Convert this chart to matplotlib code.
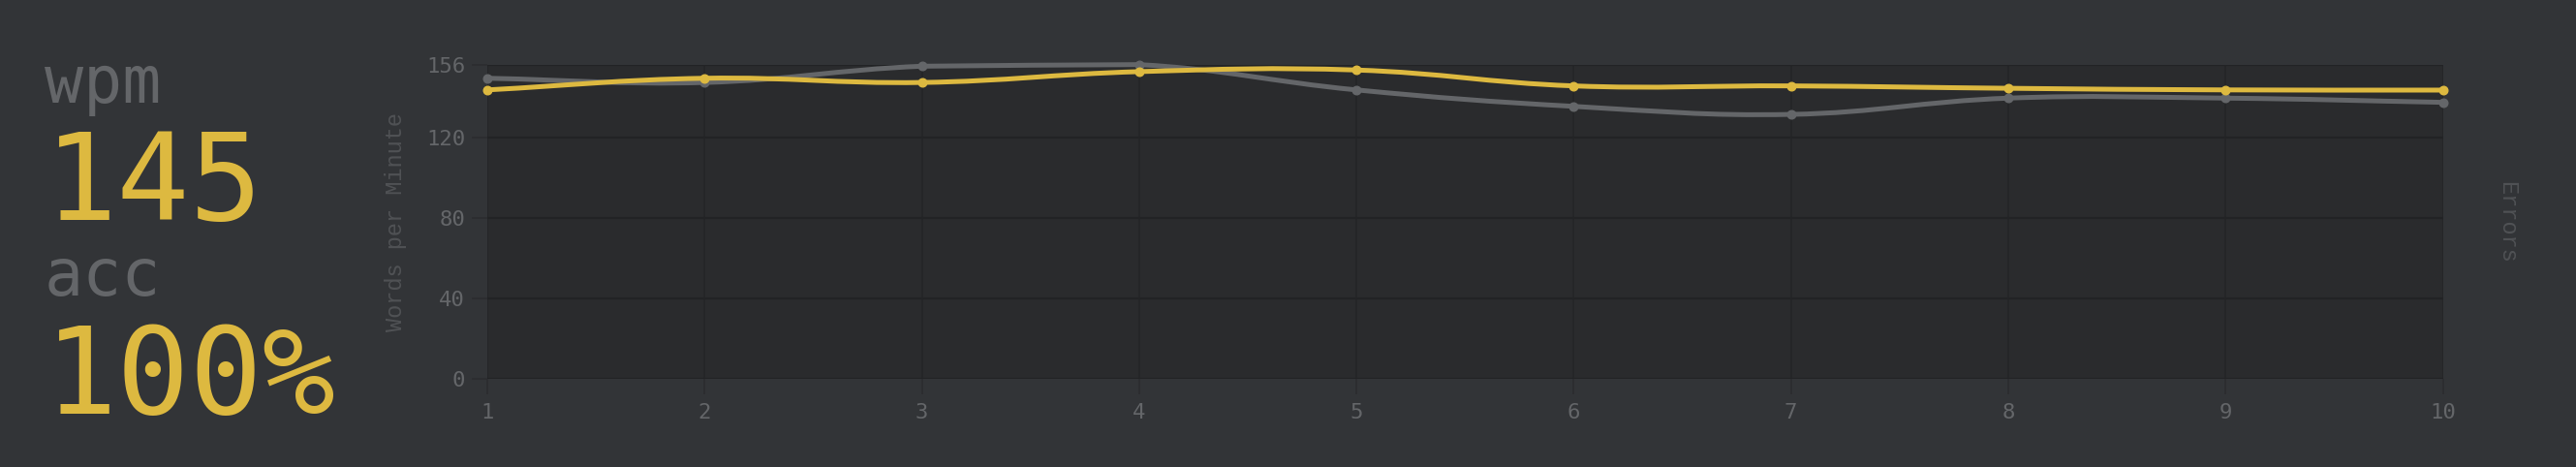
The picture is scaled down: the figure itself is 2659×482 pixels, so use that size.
import matplotlib
matplotlib.use("Agg")
import matplotlib.pyplot as plt
from matplotlib.path import Path
from matplotlib.patches import PathPatch
import numpy as np

# test result data
seconds = [1, 2, 3, 4, 5, 6, 7, 8, 9, 10]
wpm = [143.7, 149.5, 147.4, 152.8, 153.6, 145.7, 145.7, 144.5, 143.7, 143.6]
raw = [149.5, 147.4, 155.5, 156.3, 143.7, 135.5, 131.5, 139.6, 139.6, 137.5]
y_ticks = [0, 40, 80, 120, 156]
y_tick_labels = ["0", "40", "80", "120", "156"]
final_wpm = "145"
final_acc = "100%"

bg = "#323437"
plot_bg = "#2a2b2d"
grid_c = "#222325"
main_c = "#ddb940"
sub_c = "#646669"
label_c = "#505255"
mono = "DejaVu Sans Mono"
YMAX = 156


def smooth_path(xs, ys, sx, sy, tension=0.4):
    # chart.js style bezier control points, distances in pixel space,
    # control points kept inside the chart area
    px = np.array(xs, float) * sx
    py = np.array(ys, float) * sy
    n = len(px)
    top = YMAX * sy
    cps = []
    for i in range(n):
        p0 = (px[max(i - 1, 0)], py[max(i - 1, 0)])
        p1 = (px[i], py[i])
        p2 = (px[min(i + 1, n - 1)], py[min(i + 1, n - 1)])
        d01 = np.hypot(p1[0] - p0[0], p1[1] - p0[1])
        d12 = np.hypot(p2[0] - p1[0], p2[1] - p1[1])
        tot = d01 + d12 if d01 + d12 else 1
        fa = tension * d01 / tot
        fb = tension * d12 / tot
        prev = [p1[0] - fa * (p2[0] - p0[0]), p1[1] - fa * (p2[1] - p0[1])]
        nxt = [p1[0] + fb * (p2[0] - p0[0]), p1[1] + fb * (p2[1] - p0[1])]
        prev[1] = min(max(prev[1], 0), top)
        nxt[1] = min(max(nxt[1], 0), top)
        cps.append((prev, nxt))
    verts = [(px[0], py[0])]
    codes = [Path.MOVETO]
    for i in range(1, n):
        verts += [tuple(cps[i - 1][1]), tuple(cps[i][0]), (px[i], py[i])]
        codes += [Path.CURVE4] * 3
    verts = [(vx / sx, vy / sy) for vx, vy in verts]
    return Path(verts, codes)


fig = plt.figure(figsize=(26.59, 4.82), dpi=100, facecolor=bg)
ax = fig.add_axes([0.18917, 0.18983, 0.75912, 0.67054])
ax.set_facecolor(plot_bg)

ax.set_xlim(1, 10)
ax.set_ylim(0, YMAX)
ax.set_xticks(seconds)
ax.set_xticklabels([str(s) for s in seconds])
ax.set_yticks(y_ticks)
ax.set_yticklabels(y_tick_labels)
ax.grid(True, axis="y", color=grid_c, linewidth=1.6)
ax.grid(True, axis="x", color="#252628", linewidth=1.2)
ax.set_axisbelow(True)
for s in ax.spines.values():
    s.set_visible(False)
ax.tick_params(axis="both", length=11.5, width=1.1, color="#2b2c2f",
               labelcolor=sub_c, labelsize=16)
ax.tick_params(axis="y", pad=5)
ax.tick_params(axis="x", pad=7)
for lab in ax.get_xticklabels() + ax.get_yticklabels():
    lab.set_family(mono)

sx, sy = 224.2, 2.072
for ys, col, z in [(raw, sub_c, 2), (wpm, main_c, 3)]:
    patch = PathPatch(smooth_path(seconds, ys, sx, sy), fill=False, edgecolor=col,
                      linewidth=3.6, capstyle="round", joinstyle="round",
                      zorder=z, clip_on=False)
    ax.add_patch(patch)
    ax.plot(seconds, ys, "o", color=col, markersize=6.2, zorder=z, clip_on=False)

ax.text(-0.0466, 0.5, "Words per Minute", transform=ax.transAxes, rotation=90,
        ha="center", va="center", color=label_c, fontsize=17,
        family="Liberation Mono")
ax.text(1.0329, 0.5, "Errors", transform=ax.transAxes, rotation=270,
        ha="center", va="center", color=label_c, fontsize=17,
        family="Liberation Mono")

# big result numbers on the left
W, H = 2659, 482
fig.text(46 / W, 1 - 106 / H, "wpm", color=sub_c, fontsize=48, family=mono,
         va="baseline", ha="left")
fig.text(46 / W, 1 - 227 / H, final_wpm, color=main_c, fontsize=90, family=mono,
         va="baseline", ha="left")
fig.text(46 / W, 1 - 305 / H, "acc", color=sub_c, fontsize=48, family=mono,
         va="baseline", ha="left")
fig.text(46 / W, 1 - 427 / H, final_acc, color=main_c, fontsize=90, family=mono,
         va="baseline", ha="left")

fig.savefig("out.png", dpi=100, facecolor=bg)
